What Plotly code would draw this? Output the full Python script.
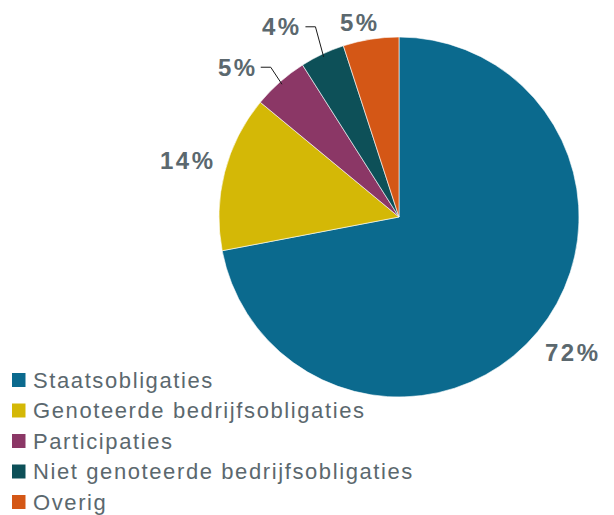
import math
import plotly.graph_objects as go

categories = ["Staatsobligaties", "Genoteerde bedrijfsobligaties", "Participaties",
              "Niet genoteerde bedrijfsobligaties", "Overig"]
values = [72, 14, 5, 4, 5]
colors = ["#0b6a8e", "#d4b806", "#8b3766", "#0d5058", "#d45716"]

# label style: leader line or not, radial distance of the label/elbow, nudges
leader = [False, False, True, True, False]
label_r = [220, 222, 197, 208, 200]
label_dx = [4, 4, 2, 5, -8]
label_dy = [-5, -1, -2, -2, 0]

OFF = 8                       # page body margin
W, H = 614 - OFF, 515 - OFF   # figure size
cx, cy, R = 399, 217, 180     # pie centre / radius in page pixels
TXT = "#5b686e"


def px(x):
    return (x - OFF) / W


def py(y):
    return 1 - (y - OFF) / H


fig = go.Figure(go.Pie(
    labels=categories, values=values, sort=False, direction="clockwise", rotation=0,
    marker=dict(colors=colors, line=dict(color="white", width=0.6)),
    textinfo="none", hoverinfo="label+percent", showlegend=False,
    domain=dict(x=[px(cx - R), px(cx + R)], y=[py(cy + R), py(cy - R)]),
))

lab_font = dict(family="Liberation Sans, Arial", size=24, color=TXT, weight="bold")
total = sum(values)
cum = 0
annotations = []
shapes = []
for v, lead, r, dx, dy in zip(values, leader, label_r, label_dx, label_dy):
    mid = (cum + v / 2) / total * 2 * math.pi
    cum += v
    sx, sy = math.sin(mid), -math.cos(mid)
    pct = f'<span style="letter-spacing:2.5px">{round(v / total * 100)}%</span>'
    if lead:
        x0, y0 = cx + sx * (R - 3), cy + sy * (R - 3)
        x1, y1 = cx + sx * r + dx, cy + sy * r + dy
        x2 = x1 - 10
        shapes.append(dict(type="path", xref="paper", yref="paper",
                           path=f"M{px(x0)},{py(y0)} L{px(x1)},{py(y1)} L{px(x2)},{py(y1)}",
                           line=dict(color="#1a1a1a", width=1)))
        annotations.append(dict(x=px(x2 - 1), y=py(y1), xref="paper", yref="paper",
                                text=pct, showarrow=False, xanchor="right", yanchor="middle",
                                font=lab_font))
    else:
        lx, ly = cx + sx * r + dx, cy + sy * r + dy
        if ly < 26:
            annotations.append(dict(x=px(lx), y=1, xref="paper", yref="paper",
                                    text=pct, showarrow=False, xanchor="center", yanchor="top",
                                    font=lab_font, borderpad=0))
        else:
            annotations.append(dict(x=px(lx), y=py(ly), xref="paper", yref="paper",
                                    text=pct, showarrow=False, xanchor="center", yanchor="middle",
                                    font=lab_font))

# legend (squares + text)
leg_y0, leg_dy = 380, 30.5
for i, (name, col) in enumerate(zip(categories, colors)):
    yc = leg_y0 + i * leg_dy
    shapes.append(dict(type="rect", xref="paper", yref="paper",
                       x0=px(12), x1=px(25.5), y0=py(yc + 7), y1=py(yc - 7),
                       fillcolor=col, line=dict(width=0)))
    annotations.append(dict(x=px(31), y=py(yc), xref="paper", yref="paper",
                            text=f'<span style="letter-spacing:1.6px">{name}</span>',
                            showarrow=False, xanchor="left", yanchor="middle",
                            font=dict(family="Liberation Sans, Arial", size=22, color=TXT)))

fig.update_layout(
    width=W, height=H, margin=dict(l=0, r=0, t=0, b=0),
    paper_bgcolor="white", plot_bgcolor="white",
    showlegend=False,
    annotations=annotations, shapes=shapes,
)
fig.write_html("out.html")
